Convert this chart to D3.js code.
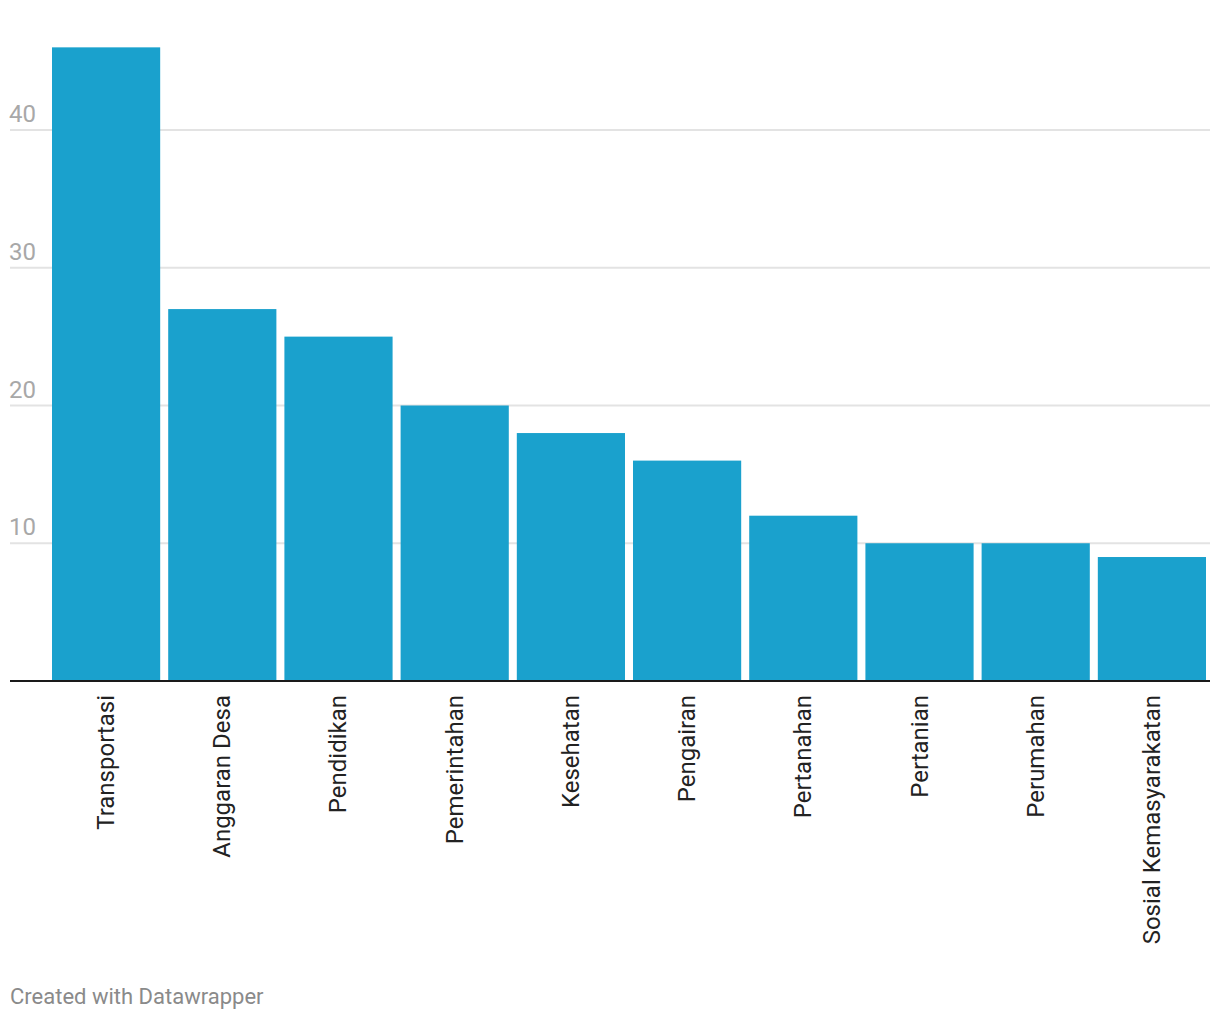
<!DOCTYPE html>
<html><head><meta charset="utf-8">
<script src="https://cdn.jsdelivr.net/npm/d3@7"></script>
<style>body{margin:0;background:#fff;}svg{display:block;font-family:Roboto,"Noto Sans",sans-serif;}</style>
</head><body>
<svg id="c" width="1220" height="1020"></svg>
<script>
const categories = ["Transportasi","Anggaran Desa","Pendidikan","Pemerintahan","Kesehatan","Pengairan","Pertanahan","Pertanian","Perumahan","Sosial Kemasyarakatan"];
const values = [46,27,25,20,18,16,12,10,10,9];
const yTicks = [10,20,30,40];

const svg = d3.select("#c");
const x = d3.scaleBand().domain(categories).range([52,1206]).paddingInner(0.069).paddingOuter(0);
const y = d3.scaleLinear().domain([0,40]).range([681,130]);

const grid = svg.append("g");
yTicks.forEach(t=>{
  grid.append("line").attr("x1",10).attr("x2",1210).attr("y1",y(t)).attr("y2",y(t))
    .attr("stroke","#e3e3e3").attr("stroke-width",2);
  grid.append("text").attr("x",9).attr("y",y(t)-8).text(t)
    .attr("fill","#a8a8a8").attr("font-size",24);
});

svg.append("g").selectAll("rect").data(values).join("rect")
  .attr("x",(d,i)=>x(categories[i])).attr("width",x.bandwidth())
  .attr("y",d=>y(d)).attr("height",d=>y(0)-y(d)-1)
  .attr("fill","#1aa1cd");

svg.append("line").attr("x1",10).attr("x2",1210).attr("y1",681).attr("y2",681)
  .attr("stroke","#1a1a1a").attr("stroke-width",2);

svg.append("g").selectAll("text").data(categories).join("text")
  .attr("transform",d=>`translate(${x(d)+x.bandwidth()/2+8},695) rotate(-90)`)
  .attr("text-anchor","end").attr("font-size",24).attr("fill","#222")
  .text(d=>d);

svg.append("text").attr("x",10).attr("y",1004).text("Created with Datawrapper")
  .attr("fill","#8a8a8a").attr("font-size",22);
</script>
</body></html>
